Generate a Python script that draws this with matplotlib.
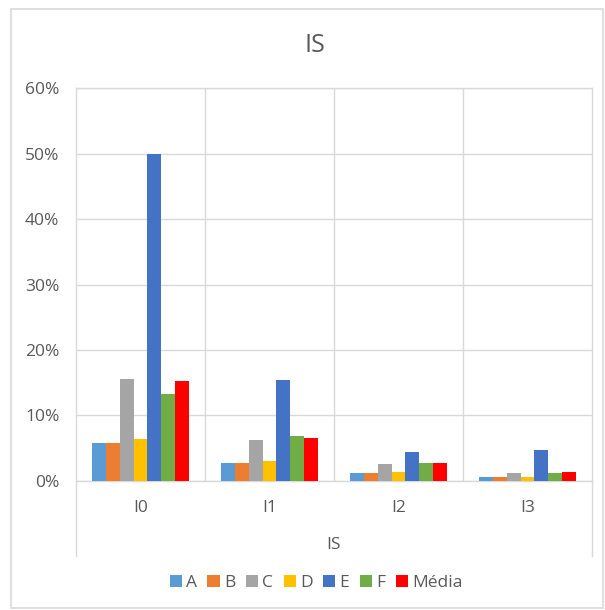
import matplotlib.pyplot as plt
from matplotlib.patches import Rectangle
from matplotlib.ticker import PercentFormatter
import numpy as np

categories = ['I0', 'I1', 'I2', 'I3']
series_names = ['A', 'B', 'C', 'D', 'E', 'F', 'Média']
a_vals = [5.8, 2.8, 1.2, 0.6]
b_vals = [5.8, 2.8, 1.2, 0.6]
c_vals = [15.6, 6.3, 2.6, 1.2]
d_vals = [6.4, 3.0, 1.4, 0.6]
e_vals = [50.0, 15.4, 4.5, 4.8]
f_vals = [13.3, 6.9, 2.8, 1.2]
media_vals = [15.2, 6.6, 2.8, 1.4]
colors = ['#5B9BD5', '#ED7D31', '#A5A5A5', '#FFC000', '#4472C4', '#70AD47', '#FF0000']

plt.rcParams['font.family'] = ['Open Sans', 'DejaVu Sans']
text_color = '#595959'
grid_color = '#D9D9D9'

fig = plt.figure(figsize=(6.05, 6.1), dpi=100)
ax = fig.add_axes([0.1256, 0.2115, 0.8529, 0.6442])

# chart border
fig.patches.append(Rectangle((11 / 605, 2 / 610), 592 / 605, 599 / 610, transform=fig.transFigure,
                             fill=False, edgecolor=grid_color, linewidth=1.2))

all_vals = [a_vals, b_vals, c_vals, d_vals, e_vals, f_vals, media_vals]
x = np.arange(len(categories))
bar_w = 0.108
for i, (name, vals) in enumerate(zip(series_names, all_vals)):
    offs = (i - 3) * bar_w
    ax.bar(x + offs, vals, width=bar_w, color=colors[i], label=name, zorder=3)

ax.set_xlim(-0.5, 3.5)
ax.set_ylim(0, 60)
ax.set_yticks(np.arange(0, 61, 10))
ax.yaxis.set_major_formatter(PercentFormatter(decimals=0))
ax.set_xticks(x)
ax.set_xticklabels(categories)
ax.tick_params(length=0, labelsize=12.5, colors=text_color)
ax.tick_params(axis='x', pad=14)
ax.tick_params(axis='y', pad=12)

ax.grid(axis='y', color=grid_color, linewidth=1, zorder=0)
for xb in [0.5, 1.5, 2.5]:
    ax.axvline(xb, color=grid_color, linewidth=1, zorder=0)
for s in ax.spines.values():
    s.set_color(grid_color)
    s.set_linewidth(1)

# outer category level lines
for xe in [0, 1]:
    ax.plot([xe, xe], [0, -75 / 393], transform=ax.transAxes, color=grid_color,
            linewidth=1, clip_on=False)

ax.text(0.5, -64 / 393, 'IS', transform=ax.transAxes, ha='center', va='center',
        fontsize=12.5, color=text_color)

fig.text(315 / 605, 1 - 45 / 610, 'IS', ha='center', va='center', fontsize=18, color=text_color)

fig.legend(loc='center', bbox_to_anchor=(316 / 605, 1 - 583 / 610), ncol=7, frameon=False,
           fontsize=12.5, labelcolor=text_color, handlelength=0.7, handleheight=0.7,
           handletextpad=0.25, columnspacing=0.6)

fig.savefig('out.png', dpi=100)
